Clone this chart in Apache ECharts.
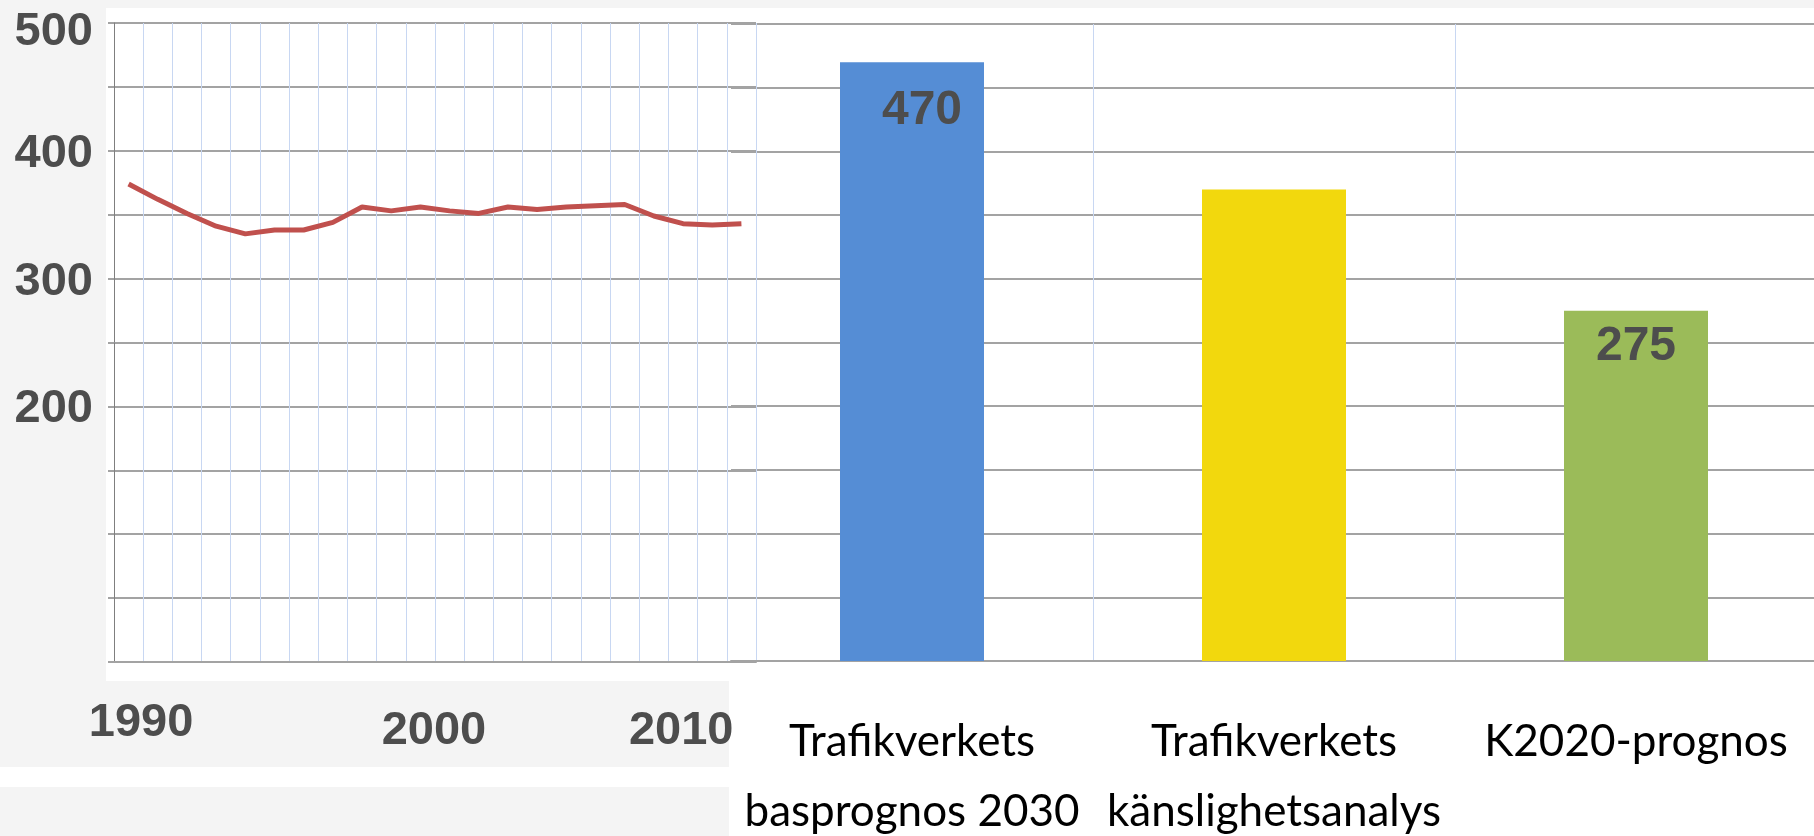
<!DOCTYPE html>
<html>
<head>
<meta charset="utf-8">
<script src="https://cdn.jsdelivr.net/npm/echarts@6/dist/echarts.min.js"></script>
<style>
  html, body { margin: 0; padding: 0; background: #fff; }
  #chart { width: 1814px; height: 836px; }
</style>
</head>
<body>
<div id="chart"></div>
<script>
// left panel: yearly values 1990-2011
const years = ['1990', '1991', '1992', '1993', '1994', '1995', '1996', '1997', '1998', '1999', '2000',
  '2001', '2002', '2003', '2004', '2005', '2006', '2007', '2008', '2009', '2010', '2011']
const yearValues = [374, 362, 351, 341, 335, 338, 338, 344, 356, 353, 356,
  353, 351, 356, 354, 356, 357, 358, 349, 343, 342, 343]
const yTickLabels = [200, 300, 400, 500]
const xTickLabels = ['1990', '2000', '2010']

// right panel: forecasts
const forecastNames = ['Trafikverkets\nbasprognos 2030', 'Trafikverkets\nkänslighetsanalys', 'K2020-prognos']
const forecastValues = [470, 370, 275]
const forecastColors = ['#558dd5', '#f2d80d', '#9bbb59']

const numFont = '"Liberation Sans", Arial, sans-serif'
const catFont = 'Lato, "Liberation Sans", sans-serif'
const gray = '#f4f4f4'
const gridGray = '#a3a3a3'
const blueGrid = '#c8d7f2'

const chart = echarts.init(document.getElementById('chart'))

// bar labels only for the labelled bars
const barData = forecastValues.map((v, i) => {
  const item = { value: v, itemStyle: { color: forecastColors[i] } }
  if (i === 0) item.label = { show: true, distance: 25, offset: [10, 0] }
  if (i === 2) item.label = { show: true, distance: 12 }
  return item
})

const option = {
  backgroundColor: '#ffffff',
  animation: false,
  graphic: [
    { type: 'rect', silent: true, z: -10, shape: { x: 0, y: 0, width: 1814, height: 8 }, style: { fill: gray } },
    { type: 'rect', silent: true, z: -10, shape: { x: 0, y: 8, width: 106, height: 673 }, style: { fill: gray } },
    { type: 'rect', silent: true, z: -10, shape: { x: 0, y: 681, width: 729, height: 86 }, style: { fill: gray } },
    { type: 'rect', silent: true, z: -10, shape: { x: 0, y: 787, width: 729, height: 49 }, style: { fill: gray } }
  ],
  grid: [
    { left: 114, top: 23, width: 642, height: 639, outerBoundsMode: 'none' },
    { left: 731, top: 24, width: 1086, height: 637, outerBoundsMode: 'none' }
  ],
  xAxis: [
    {
      type: 'category',
      gridIndex: 0,
      data: years,
      boundaryGap: true,
      axisLine: { lineStyle: { color: gridGray, width: 2 } },
      axisTick: { interval: 0, length: 10, lineStyle: { color: '#7f7f7f' } },
      splitLine: { show: true, interval: 0, lineStyle: { color: blueGrid, width: 1 } },
      axisLabel: {
        interval: 9,
        margin: 38,
        formatter: v => xTickLabels.includes(v) ? '{y' + v + '|' + v + '}' : '',
        rich: {
          y1990: { fontSize: 47, fontWeight: 'bold', fontFamily: numFont, color: '#4d4d4d', padding: [0, 0, 0, 25] },
          y2000: { fontSize: 47, fontWeight: 'bold', fontFamily: numFont, color: '#4d4d4d', padding: [8, 0, 0, 27] },
          y2010: { fontSize: 47, fontWeight: 'bold', fontFamily: numFont, color: '#4d4d4d', padding: [8, 62, 0, 0] }
        }
      }
    },
    {
      type: 'category',
      gridIndex: 1,
      data: forecastNames,
      boundaryGap: true,
      axisLine: { lineStyle: { color: gridGray, width: 2 } },
      axisTick: { interval: i => i > 0, length: 19, lineStyle: { color: '#8c8c8c' } },
      splitLine: { show: true, interval: i => i > 0, lineStyle: { color: blueGrid, width: 1 } },
      axisLabel: {
        interval: 0,
        margin: 46,
        fontSize: 44,
        lineHeight: 70,
        fontFamily: catFont,
        color: '#000000'
      }
    }
  ],
  yAxis: [
    {
      type: 'value',
      gridIndex: 0,
      min: 0,
      max: 500,
      interval: 50,
      axisLine: { show: true, lineStyle: { color: '#7f7f7f', width: 1 } },
      axisTick: { show: true, length: 6, lineStyle: { color: gridGray, width: 2 } },
      splitLine: { lineStyle: { color: gridGray, width: 2 } },
      axisLabel: {
        margin: 21,
        formatter: v => yTickLabels.includes(v) ? (v === 500 ? '{top|' + v + '}' : '{n|' + v + '}') : '',
        rich: {
          top: { fontSize: 47, fontWeight: 'bold', fontFamily: numFont, color: '#4d4d4d', padding: [18, 0, 0, 0] },
          n: { fontSize: 47, fontWeight: 'bold', fontFamily: numFont, color: '#4d4d4d', padding: [6, 0, 0, 0] }
        }
      }
    },
    {
      type: 'value',
      gridIndex: 1,
      min: 0,
      max: 500,
      interval: 50,
      axisLine: { show: false },
      axisTick: { show: false },
      axisLabel: { show: false },
      splitLine: { lineStyle: { color: gridGray, width: 2 } }
    }
  ],
  series: [
    {
      type: 'line',
      xAxisIndex: 0,
      yAxisIndex: 0,
      data: yearValues,
      symbol: 'none',
      lineStyle: { color: '#c0504d', width: 5 },
      z: 5
    },
    {
      type: 'bar',
      xAxisIndex: 1,
      yAxisIndex: 1,
      data: barData,
      barWidth: 144,
      label: {
        show: false,
        position: 'insideTop',
        fontSize: 48,
        fontWeight: 'bold',
        fontFamily: numFont,
        color: '#4d4d4d'
      }
    }
  ]
}

chart.setOption(option)
window.addEventListener('resize', () => chart.resize())
</script>
</body>
</html>
